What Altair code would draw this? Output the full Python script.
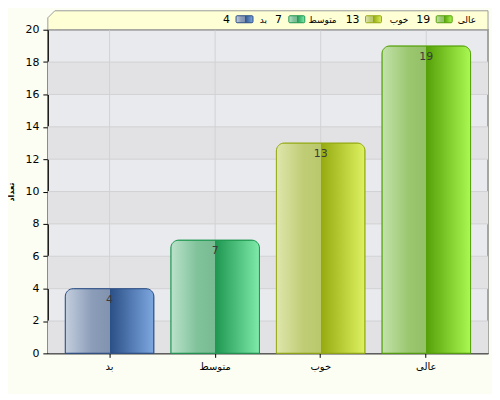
import altair as alt
import pandas as pd

# ---- data ----
categories = ["بد", "متوسط", "خوب", "عالی"]
counts = [4, 7, 13, 19]
y_ticks = [0, 2, 4, 6, 8, 10, 12, 14, 16, 18, 20]
band_starts = [0, 4, 8, 12, 16]
band_ends = [2, 6, 10, 14, 18]

# ---- styles ----
edge_colors = ["#2B4F86", "#1E9650", "#94A812", "#55A00A"]
stops = [
    ["#C4CFDE", "#8C9DB9", "#8293B0", "#2A4E86", "#7EA8E0"],
    ["#BBE2CB", "#80C29A", "#78BA92", "#1D9650", "#80EAAA"],
    ["#DFE6AC", "#C0CD76", "#B9C86C", "#95A90F", "#DEF262"],
    ["#C3E2AB", "#9BC770", "#93C166", "#55A008", "#AAF852"],
]

def grad(s):
    return alt.LinearGradient(
        gradient="linear", x1=0, y1=0, x2=1, y2=0,
        stops=[
            alt.GradientStop(offset=0, color=s[0]),
            alt.GradientStop(offset=0.3, color=s[1]),
            alt.GradientStop(offset=0.5, color=s[2]),
            alt.GradientStop(offset=0.5, color=s[3]),
            alt.GradientStop(offset=1, color=s[4]),
        ],
    )

W, H = 442, 325
FONT = "DejaVu Sans"

df = pd.DataFrame({"cat": categories, "n": counts})

x_scale = alt.Scale(paddingInner=0.16, paddingOuter=0.165)
x_axis = alt.Axis(title=None, labelAngle=0, labelFont=FONT, labelFontSize=10,
                  labelColor="#000", tickSize=4, tickColor="#000", domainColor="#000",
                  grid=False, labelPadding=4)
x_enc = alt.X("cat:N", sort=categories, scale=x_scale, axis=x_axis)
y_scale = alt.Scale(domain=[0, 20], nice=False)
y_axis = alt.Axis(values=y_ticks, title="تعداد", titleFont=FONT, titleFontSize=8,
                  titleFontWeight="bold", titleColor="#000", titleAngle=270,
                  titleX=-36, titleY=H / 2, titleBaseline="middle",
                  labelFont=FONT, labelFontSize=11, labelColor="#000",
                  tickSize=5, tickColor="#000", domainColor="#000",
                  grid=False, labelPadding=4)
y_enc = alt.Y("n:Q", scale=y_scale, axis=y_axis, title="تعداد")

bands_df = pd.DataFrame({"y0": band_starts, "y1": band_ends})
bands = alt.Chart(bands_df).mark_rect(color="#E2E2E4").encode(
    x=alt.value(0), x2=alt.value(W),
    y=alt.Y("y0:Q", scale=y_scale, axis=y_axis, title="تعداد"), y2="y1:Q",
)

grid_df = pd.DataFrame({"t": y_ticks[1:-1]})
hgrid = alt.Chart(grid_df).mark_rule(color="#D2D2D4", strokeWidth=1).encode(
    y=alt.Y("t:Q", scale=y_scale, axis=y_axis, title="تعداد"),
    x=alt.value(0), x2=alt.value(W),
)
vgrid = alt.Chart(df).mark_rule(color="#D2D2D4", strokeWidth=1).encode(
    x=x_enc, y=alt.value(0), y2=alt.value(H),
)

layers = [bands, hgrid, vgrid]
for i, c in enumerate(categories):
    layers.append(
        alt.Chart(df).transform_filter(alt.datum.cat == c).mark_bar(
            fill=grad(stops[i]), stroke=edge_colors[i], strokeWidth=1,
            cornerRadiusTopLeft=8, cornerRadiusTopRight=8,
        ).encode(x=x_enc, y=y_enc)
    )

labels = alt.Chart(df).mark_text(
    dy=11, font=FONT, fontSize=11, color="#3A3A3A", baseline="middle"
).encode(x=x_enc, y=y_enc, text="n:Q")
layers.append(labels)

# ---- legend header ----
legend_box = pd.DataFrame({"px": [0, 7, W], "top": [-12, -19, -19], "bot": [0, 0, 0]})
box = alt.Chart(legend_box).mark_area(
    fill="#FFFFD6", stroke="#9A9A9A", strokeWidth=1
).encode(
    x=alt.X("px:Q", scale=None), y=alt.Y("top:Q", scale=None), y2="bot:Q"
)
layers.append(box)

name_right = [220, 290, 362, 430]
swatch_left = [189, 242, 319, 390]
swatch_w = [17, 16, 16, 16]
value_right = [183, 235, 313, 384]
for i, c in enumerate(categories):
    item = pd.DataFrame({"name": [c], "val": [str(counts[i])],
                         "nx": [name_right[i]], "sx": [swatch_left[i]],
                         "sx2": [swatch_left[i] + swatch_w[i]], "vx": [value_right[i]]})
    base = alt.Chart(item)
    layers.append(base.mark_text(align="right", baseline="middle", font=FONT,
                                 fontSize=9, color="#000").encode(
        x=alt.X("nx:Q", scale=None), y=alt.value(-10), text="name:N"))
    layers.append(base.mark_text(align="right", baseline="middle", font=FONT,
                                 fontSize=11, color="#000").encode(
        x=alt.X("vx:Q", scale=None), y=alt.value(-10), text="val:N"))
    layers.append(base.mark_rect(fill=grad(stops[i]), stroke=edge_colors[i],
                                 strokeWidth=1, cornerRadius=1).encode(
        x=alt.X("sx:Q", scale=None), x2="sx2:Q", y=alt.value(-14), y2=alt.value(-7)))

chart = alt.layer(*layers).properties(
    width=W, height=H,
    background="#FCFEF3",
    padding={"left": 40, "top": 21, "right": 4, "bottom": 40},
    autosize=alt.AutoSizeParams(type="none"),
).configure_view(
    fill="#E8EAEE", stroke="#8A8A8A", strokeWidth=1.5
)

chart.save("out.html", embed_options={"renderer": "svg", "actions": False})
